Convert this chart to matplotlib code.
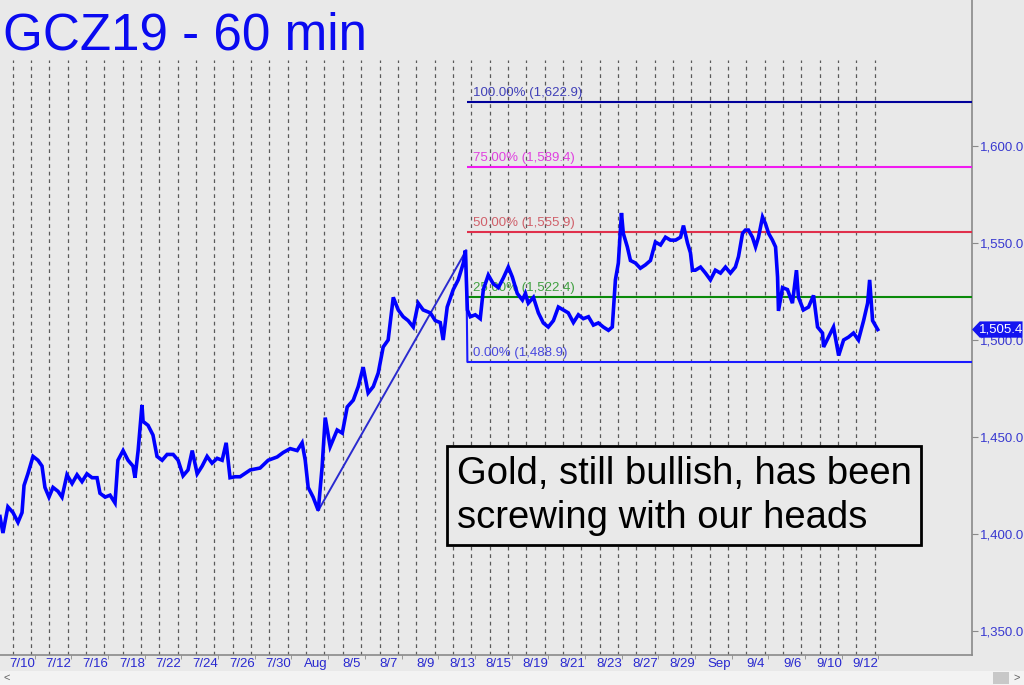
import matplotlib
matplotlib.use("Agg")
import matplotlib.pyplot as plt
from matplotlib.patches import Rectangle, Polygon
from matplotlib.ticker import FuncFormatter
from matplotlib.transforms import blended_transform_factory

plt.rcParams['font.family'] = ['Liberation Sans', 'DejaVu Sans']

# ------------------ data ------------------
# time in trading days since the 7/10 session open, hourly closes sampled
t_days = [-0.69, -0.53, -0.26, 0.02, 0.29, 0.51, 0.62, 0.83, 1.11, 1.38,
          1.60, 1.76, 1.98, 2.20, 2.47, 2.69, 2.96, 3.24, 3.51, 3.78,
          4.05, 4.33, 4.60, 4.76, 5.04, 5.31, 5.58, 5.74, 6.02, 6.29,
          6.56, 6.67, 6.84, 7.05, 7.11, 7.38, 7.65, 7.87, 8.15, 8.42,
          8.75, 9.02, 9.29, 9.56, 9.79, 10.06, 10.33, 10.60, 10.87, 11.15,
          11.42, 11.64, 11.85, 12.13, 12.40, 12.95, 13.49, 13.93, 14.42, 14.75,
          15.13, 15.51, 15.78, 15.95, 16.11, 16.38, 16.66, 16.87, 17.04, 17.31,
          17.69, 17.97, 18.24, 18.57, 18.84, 19.11, 19.38, 19.66, 19.93, 20.20,
          20.47, 20.75, 21.02, 21.29, 21.56, 21.84, 22.11, 22.38, 22.77, 23.04,
          23.31, 23.47, 23.69, 24.02, 24.29, 24.57, 24.68, 24.79, 24.95, 25.22,
          25.49, 25.66, 25.93, 26.20, 26.48, 26.75, 27.02, 27.24, 27.51, 27.79,
          27.95, 28.11, 28.39, 28.66, 28.93, 29.20, 29.48, 29.75, 30.02, 30.29,
          30.57, 30.84, 31.11, 31.39, 31.66, 31.93, 32.20, 32.48, 32.69, 32.86,
          33.02, 33.19, 33.29, 33.51, 33.68, 33.95, 34.22, 34.49, 34.77, 35.04,
          35.32, 35.59, 35.86, 36.14, 36.41, 36.57, 36.79, 36.95, 37.06, 37.22,
          37.50, 37.77, 38.04, 38.31, 38.59, 38.86, 39.13, 39.40, 39.57, 39.79,
          39.95, 40.11, 40.33, 40.50, 40.66, 40.88, 41.04, 41.21, 41.42, 41.59,
          41.70, 41.75, 41.97, 42.24, 42.51, 42.73, 42.84, 43.11, 43.39, 43.66,
          43.88, 44.15, 44.21, 44.48, 44.75, 45.03, 45.30, 45.57, 45.84, 46.11,
          46.39, 46.61, 46.72, 46.88, 47.16]
price = [1409, 1400.5, 1414, 1411, 1406, 1411, 1425, 1431, 1440, 1438,
         1435, 1424, 1419, 1424, 1422, 1419, 1430.5, 1426, 1430.5, 1427,
         1431, 1429, 1429, 1421, 1419, 1420, 1416, 1438, 1443, 1438,
         1435, 1429, 1443, 1466.5, 1458, 1456, 1451, 1440, 1438, 1441,
         1441, 1438, 1430, 1433, 1443, 1431, 1435, 1440, 1436.5, 1439,
         1438, 1447, 1429, 1429.5, 1429.5, 1433, 1434, 1438, 1439.7, 1442,
         1444, 1443, 1447, 1438, 1424, 1419, 1412.1, 1434.5, 1460, 1445,
         1453.6, 1452, 1465.5, 1469, 1476, 1486, 1472.7, 1476, 1483, 1496.4,
         1500, 1522, 1515.5, 1512, 1510, 1506.7, 1519, 1515.5, 1514, 1510,
         1509, 1500, 1517, 1526, 1531, 1539.7, 1546.1, 1515.5, 1512, 1513,
         1511, 1526, 1533.5, 1529, 1527, 1532, 1537.6, 1532.5, 1524, 1520.6,
         1524, 1519, 1522, 1514, 1508.8, 1506.7, 1510, 1517, 1515.5, 1514,
         1509, 1513, 1511, 1512, 1507.7, 1508.8, 1506.7, 1505, 1506.7, 1531,
         1539.7, 1565.5, 1555, 1548, 1541, 1539.7, 1537, 1538.7, 1541, 1550.5,
         1549, 1553, 1551.5, 1551.5, 1553, 1559, 1550, 1545, 1536, 1536,
         1537.6, 1534.5, 1531, 1536, 1534.5, 1537.6, 1534.5, 1537.6, 1543, 1555,
         1556.7, 1556.7, 1553, 1548, 1553, 1563.4, 1560, 1555, 1551.5, 1548,
         1532.5, 1515, 1527, 1526, 1519, 1536, 1522, 1515.5, 1517, 1523,
         1506.7, 1503.6, 1496.4, 1501.5, 1506.7, 1492, 1500, 1501.5, 1503.6, 1500,
         1510, 1519, 1531, 1510, 1505.4]

date_labels = ['7/10', '7/12', '7/16', '7/18', '7/22', '7/24', '7/26', '7/30',
               'Aug', '8/5', '8/7', '8/9', '8/13', '8/15', '8/19', '8/21',
               '8/23', '8/27', '8/29', 'Sep', '9/4', '9/6', '9/10', '9/12']
n_sessions = 48

# A-B-C swing used for the projection
abc_t = [16.66, 24.72, 24.79]
abc_p = [1412.1, 1546.1, 1488.9]

fib_names = ['100.00%', '75.00%', '50.00%', '25.00%', '0.00%']
fib_vals = [1622.9, 1589.4, 1555.9, 1522.4, 1488.9]
fib_line_colors = ['#00009a', '#f01af0', '#e0304c', '#0a8a0a', '#1a1aff']
fib_text_colors = ['#4040b8', '#e040e0', '#d0606a', '#40a040', '#4848e0']

last_price = price[-1]
y_ticks = [1350, 1400, 1450, 1500, 1550, 1600]

BG = '#e9e9e9'

# ------------------ figure ------------------
fig = plt.figure(figsize=(10.24, 6.85), dpi=100, facecolor=BG)
ax = fig.add_axes([0, 30 / 685, 972 / 1024, 655 / 685])
ax.set_facecolor(BG)
ax.set_xlim(-0.69, 52.3)
ax.set_ylim(1337.6, 1675.3)

# session separators
for d in range(n_sessions):
    ax.axvline(d, ymin=0, ymax=1 - 60 / 655, color='#5a5a5a', lw=0.9,
               ls=(0, (3, 3)), zorder=1)

# fib projection lines
ax.hlines(fib_vals, abc_t[2], ax.get_xlim()[1], colors=fib_line_colors,
          lw=1.5, zorder=3)
for name, val, col in zip(fib_names, fib_vals, fib_text_colors):
    ax.annotate(f'{name} ({val:,.1f})', (abc_t[2], val), xytext=(4, 2),
                textcoords='offset points', fontsize=9.5, color=col,
                ha='left', va='bottom', zorder=3)

ax.plot(abc_t[:2], abc_p[:2], color='#2a2ad0', lw=1.4, zorder=3)
ax.plot(abc_t[1:], abc_p[1:], color='#1a1aff', lw=1.5, zorder=3)

# price
ax.plot(t_days, price, color='#0000ff', lw=2.6, zorder=4, solid_joinstyle='miter')

# comment box
ax.add_patch(Rectangle((447 / 972, 1 - 545 / 655), 474 / 972, 99 / 655,
                       transform=ax.transAxes, fc=BG, ec='black', lw=2, zorder=5))
ax.text(457 / 972, 1 - 496 / 655, 'Gold, still bullish, has been\nscrewing with our heads',
        transform=ax.transAxes, fontsize=27.5, color='black', ha='left',
        va='center', linespacing=1.28, zorder=6)

# axes styling
for s in ['top', 'left']:
    ax.spines[s].set_visible(False)
for s in ['right', 'bottom']:
    ax.spines[s].set_color('#8a8a8a')
    ax.spines[s].set_linewidth(1.2)

ax.yaxis.tick_right()
ax.set_yticks(y_ticks)
ax.yaxis.set_major_formatter(FuncFormatter(lambda v, _: f'{v:,.1f}'))
ax.tick_params(axis='y', length=4, color='#8a8a8a', labelcolor='#3838d0',
               labelsize=9.5, pad=1.5)

ax.set_xticks([2 * i + 0.5 for i in range(len(date_labels))])
ax.set_xticklabels(date_labels)
ax.set_xticks([2 * i + 1.2 for i in range(len(date_labels))], minor=True)
ax.tick_params(axis='x', which='major', length=0, labelcolor='#2828d0',
               labelsize=9.5, pad=2)
ax.tick_params(axis='x', which='minor', length=3, color='#8a8a8a')

# last price tag
tr = blended_transform_factory(ax.transAxes, ax.transData)
ax.add_patch(Polygon([(1.0, last_price), (1.008, last_price + 4.2),
                      (1.052, last_price + 4.2), (1.052, last_price - 4.2),
                      (1.008, last_price - 4.2)], closed=True, transform=tr,
                     fc='#1414f0', ec='none', clip_on=False, zorder=7))
ax.text(1.007, last_price, f'{last_price:,.1f}', transform=tr, color='white',
        fontsize=9.5, ha='left', va='center', clip_on=False, zorder=8)

# title
fig.text(3 / 1024, 1 - 49 / 685, 'GCZ19 - 60 min', fontsize=36.8,
         color='#0a0af0', ha='left', va='baseline')

# scroll strip at the bottom
fig.patches.append(Rectangle((0, 0), 1, 14 / 685, transform=fig.transFigure,
                             fc='#f3f3f3', ec='none'))
fig.patches.append(Rectangle((993 / 1024, 1 / 685), 16 / 1024, 12 / 685,
                             transform=fig.transFigure, fc='#c8c8c8', ec='none'))
fig.text(4 / 1024, 7 / 685, '<', fontsize=8, color='#606060', va='center')
fig.text(1014 / 1024, 7 / 685, '>', fontsize=8, color='#606060', va='center')

fig.savefig('out.png', dpi=100, facecolor=BG)
